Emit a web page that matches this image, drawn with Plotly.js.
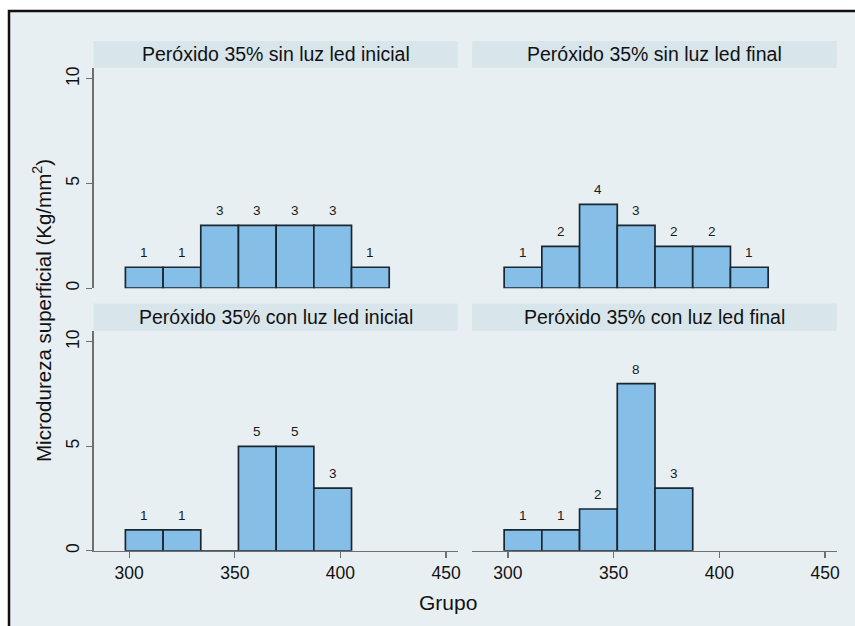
<!DOCTYPE html>
<html>
<head>
<meta charset="utf-8">
<script src="https://cdn.plot.ly/plotly-3.0.1.min.js"></script>
<style>html,body{margin:0;padding:0;background:#fff;}#chart{width:855px;height:626px;}</style>
</head>
<body>
<div id="chart"></div>
<script>
// Bin centers (Grupo) and bin width
const binCenters = [307.12, 324.96, 342.80, 360.64, 378.48, 396.32, 414.16];
const binWidth = 17.84;

const panelTitles = [
  "Peróxido 35% sin luz led inicial",
  "Peróxido 35% sin luz led final",
  "Peróxido 35% con luz led inicial",
  "Peróxido 35% con luz led final"
];
const sinLuzInicial = [1, 1, 3, 3, 3, 3, 1];
const sinLuzFinal   = [1, 2, 4, 3, 2, 2, 1];
const conLuzInicial = [1, 1, 0, 5, 5, 3];
const conLuzFinal   = [1, 1, 2, 8, 3];
const panelCounts = [sinLuzInicial, sinLuzFinal, conLuzInicial, conLuzFinal];

const xTickVals = [300, 350, 400, 450];
const yTickVals = [0, 5, 10];
const xTitle = "Grupo";
const yTitle = "Microdureza superficial (Kg/mm<sup>2</sup>)";

const W = 855, H = 626;
const px = v => v / W;
const py = v => 1 - v / H;

const colDom = [[px(93.5), px(457.7)], [px(472.2), px(836.7)]];
const rowDom = [[py(288.2), py(67.7)], [py(550.8), py(330.7)]];
const stripTop = [41, 303.5];
const stripBot = [67.7, 330.7];

const barFill = "#85bfe8";
const barLine = "#1b2631";
const bg = "#e8eff2";
const stripColor = "#d8e5eb";
const gridColor = "#e6eef1";
const axisColor = "#6f6f6f";
const fontFam = "Liberation Sans, Arial, sans-serif";

const traces = [];
const layout = {
  width: W, height: H,
  margin: {l: 0, r: 0, t: 0, b: 0, pad: 0},
  paper_bgcolor: "#ffffff",
  plot_bgcolor: "#ffffff",
  showlegend: false,
  bargap: 0,
  font: {family: fontFam, color: "#111"},
  shapes: [],
  annotations: []
};

// outer frame
layout.shapes.push({type: "rect", xref: "paper", yref: "paper", layer: "below",
  x0: px(9), x1: px(880), y0: py(11), y1: py(660),
  fillcolor: bg, line: {color: "#111", width: 2.5}});

for (let i = 0; i < 4; i++) {
  const r = Math.floor(i / 2), c = i % 2;
  const n = i + 1;
  const xa = n === 1 ? "xaxis" : "xaxis" + n;
  const ya = n === 1 ? "yaxis" : "yaxis" + n;
  const xr = n === 1 ? "x" : "x" + n;
  const yr = n === 1 ? "y" : "y" + n;
  const counts = panelCounts[i];
  const xs = binCenters.slice(0, counts.length);
  traces.push({
    type: "bar", x: xs, y: counts, width: binWidth,
    xaxis: xr, yaxis: yr,
    marker: {color: barFill, line: {color: barLine, width: 1.7}},
    hoverinfo: "skip"
  });
  counts.forEach((v, k) => {
    if (v > 0) {
      layout.annotations.push({
        x: xs[k], y: v, xref: xr, yref: yr, text: String(v),
        showarrow: false, yanchor: "bottom", yshift: 5,
        font: {size: 13.5, color: "#1a1a1a", family: fontFam}
      });
    }
  });
  const bottom = r === 1;
  layout[xa] = {
    domain: colDom[c], anchor: yr, range: [283.1, 455.5],
    tickvals: xTickVals, ticktext: xTickVals.map(String),
    showticklabels: bottom, ticks: bottom ? "outside" : "",
    ticklen: 6, tickcolor: axisColor, tickwidth: 1.2,
    showline: bottom, linecolor: axisColor, linewidth: 1.2,
    showgrid: false, zeroline: false,
    tickfont: {size: 17.5, color: "#111", family: fontFam}
  };
  const left = c === 0;
  layout[ya] = {
    domain: rowDom[r], anchor: xr, range: [0, 10.53],
    tickvals: yTickVals, ticktext: yTickVals.map(String),
    showticklabels: left, ticks: left ? "outside" : "",
    ticklen: 6, tickcolor: axisColor, tickwidth: 1.2,
    showline: left, linecolor: axisColor, linewidth: 1.2,
    showgrid: true, gridcolor: gridColor, gridwidth: 1.2,
    zeroline: false, tickangle: -90,
    tickfont: {size: 17.5, color: "#111", family: fontFam}
  };
  // strip header
  layout.shapes.push({type: "rect", xref: "paper", yref: "paper", layer: "below",
    x0: colDom[c][0], x1: colDom[c][1], y0: py(stripBot[r]), y1: py(stripTop[r]),
    fillcolor: stripColor, line: {width: 0}});
  layout.annotations.push({
    xref: "paper", yref: "paper", x: (colDom[c][0] + colDom[c][1]) / 2,
    y: py((stripTop[r] + stripBot[r]) / 2), text: panelTitles[i],
    showarrow: false, xanchor: "center", yanchor: "middle",
    font: {size: 19.5, color: "#111", family: fontFam}
  });
}

layout.annotations.push({
  xref: "paper", yref: "paper", x: px(448), y: py(602), text: xTitle,
  showarrow: false, xanchor: "center", yanchor: "middle",
  font: {size: 21, color: "#111", family: fontFam}
});
layout.annotations.push({
  xref: "paper", yref: "paper", x: px(42), y: py(311), text: yTitle,
  showarrow: false, xanchor: "center", yanchor: "middle", textangle: -90,
  font: {size: 20.5, color: "#111", family: fontFam}
});

Plotly.newPlot("chart", traces, layout, {displayModeBar: false, staticPlot: true});
</script>
</body>
</html>
